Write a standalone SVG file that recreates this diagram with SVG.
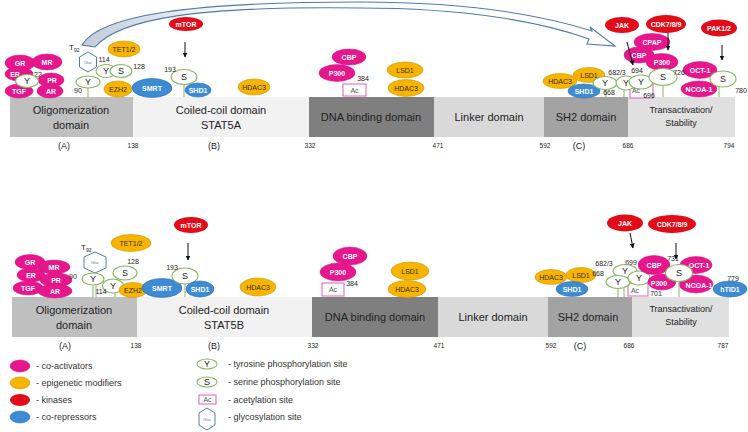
<svg xmlns="http://www.w3.org/2000/svg" width="748" height="432" viewBox="0 0 748 432">
<defs>
<style>
text{font-family:"Liberation Sans",Arial,sans-serif}
.pk{fill:#e8168c;stroke:#cf127c;stroke-width:.5}
.or{fill:#f7b500;stroke:#c99409;stroke-width:.6}
.rd{fill:#e30b17}
.bl{fill:#3d8bd4;stroke:#2d6fae;stroke-width:.6}
.site{fill:#fff;stroke:#86b65e;stroke-width:1.1}
.stem{stroke:#9cc27a;stroke-width:1.2}
.ac{fill:#fff;stroke:#e35fb5;stroke-width:1}
.hex{fill:#fff;stroke:#5a7aa6;stroke-width:1}
.tw{fill:#fff;font-size:7px;font-weight:bold;text-anchor:middle;dominant-baseline:central}
.tk{fill:#3a2a00;font-size:7px;text-anchor:middle;dominant-baseline:central}
.sl{fill:#222;font-size:9px;text-anchor:middle;dominant-baseline:central}
.num{fill:#222;font-size:7px;text-anchor:middle}
.dom{fill:#222;font-size:11px;text-anchor:middle}
.dsm{fill:#222;font-size:9px;text-anchor:middle}
.pos{fill:#222;font-size:6.5px;text-anchor:middle}
.lbl{fill:#222;font-size:9px;text-anchor:middle}
.leg{fill:#333;font-size:9px;dominant-baseline:central}
.gl{fill:#5a7aa6;font-size:4px;text-anchor:middle;dominant-baseline:central}
.acx{fill:#555;font-size:7px;text-anchor:middle;dominant-baseline:central}
.arr{stroke:#111;stroke-width:1;fill:none;marker-end:url(#ah)}
</style>
<marker id="ah" viewBox="0 0 10 10" refX="9" refY="5" markerWidth="5" markerHeight="5" orient="auto"><path d="M0,0 L10,5 L0,10 Z" fill="#111"/></marker>
<linearGradient id="bg" x1="0" y1="0" x2="1" y2="0"><stop offset="0" stop-color="#c3ccd8"/><stop offset="0.3" stop-color="#ffffff"/><stop offset="1" stop-color="#ffffff"/></linearGradient>
</defs>

<!-- ============ STAT5A domains ============ -->
<g id="stat5a-domains">
<rect x="10" y="97" width="123" height="40" fill="#bfbfbf"/>
<rect x="133" y="97" width="176" height="40" fill="#f2f2f2"/>
<rect x="309" y="97" width="125" height="40" fill="#7f7f7f"/>
<rect x="434" y="97" width="110" height="40" fill="#d9d9d9"/>
<rect x="544" y="97" width="84" height="40" fill="#a3a3a3"/>
<rect x="628" y="97" width="107" height="40" fill="#e0e0e0"/>
<text class="dom" x="71" y="114">Oligomerization</text>
<text class="dom" x="71" y="129">domain</text>
<text class="dom" x="221" y="114">Coiled-coil domain</text>
<text class="dom" x="221" y="129">STAT5A</text>
<text class="dom" x="371" y="121">DNA binding domain</text>
<text class="dom" x="489" y="121">Linker domain</text>
<text class="dom" x="586" y="121">SH2 domain</text>
<text class="dsm" x="681" y="113">Transactivation/</text>
<text class="dsm" x="681" y="126">Stability</text>
<text class="lbl" x="64" y="149">(A)</text>
<text class="pos" x="133" y="148">138</text>
<text class="lbl" x="214" y="149">(B)</text>
<text class="pos" x="310" y="148">332</text>
<text class="pos" x="438" y="148">471</text>
<text class="pos" x="545" y="148">592</text>
<text class="lbl" x="579" y="149">(C)</text>
<text class="pos" x="628" y="148">686</text>
<text class="pos" x="729" y="148">794</text>
</g>

<!-- ============ STAT5B domains ============ -->
<g id="stat5b-domains">
<rect x="12" y="297" width="125" height="40" fill="#bfbfbf"/>
<rect x="137" y="297" width="175" height="40" fill="#f2f2f2"/>
<rect x="312" y="297" width="126" height="40" fill="#7f7f7f"/>
<rect x="438" y="297" width="110" height="40" fill="#d9d9d9"/>
<rect x="548" y="297" width="84" height="40" fill="#a3a3a3"/>
<rect x="632" y="297" width="97" height="40" fill="#e0e0e0"/>
<text class="dom" x="74" y="314">Oligomerization</text>
<text class="dom" x="74" y="329">domain</text>
<text class="dom" x="224" y="314">Coiled-coil domain</text>
<text class="dom" x="224" y="329">STAT5B</text>
<text class="dom" x="375" y="321">DNA binding domain</text>
<text class="dom" x="493" y="321">Linker domain</text>
<text class="dom" x="588" y="321">SH2 domain</text>
<text class="dsm" x="681" y="312">Transactivation/</text>
<text class="dsm" x="681" y="325">Stability</text>
<text class="lbl" x="65" y="349">(A)</text>
<text class="pos" x="136" y="348">138</text>
<text class="lbl" x="214" y="349">(B)</text>
<text class="pos" x="313" y="348">332</text>
<text class="pos" x="439" y="348">471</text>
<text class="pos" x="551" y="348">592</text>
<text class="lbl" x="580" y="349">(C)</text>
<text class="pos" x="629" y="348">686</text>
<text class="pos" x="723" y="348">787</text>
</g>

<!-- ============ STAT5A nodes ============ -->
<g id="a-GR"><ellipse class="pk" cx="20" cy="63" rx="15" ry="8"/><text class="tw" x="20" y="63">GR</text></g>
<g id="a-MR"><ellipse class="pk" cx="47" cy="62" rx="15" ry="8"/><text class="tw" x="47" y="62">MR</text></g>
<g id="a-ER"><ellipse class="pk" cx="19" cy="74" rx="14" ry="7"/><text class="tw" x="15" y="74">ER</text></g>
<g id="a-22"><text class="num" x="38" y="77">22</text></g>
<g id="a-PR"><ellipse class="pk" cx="51" cy="80" rx="13" ry="7"/><text class="tw" x="52" y="80">PR</text></g>
<g id="a-TGF"><ellipse class="pk" cx="19" cy="91" rx="14" ry="7"/><text class="tw" x="19" y="91">TGF</text></g>
<g id="a-AR"><ellipse class="pk" cx="50" cy="91" rx="13" ry="7"/><text class="tw" x="51" y="91">AR</text></g>
<g id="a-Y22"><ellipse class="site" cx="27" cy="81" rx="11.5" ry="6.5"/><text class="sl" x="27" y="81">Y</text></g>

<g id="a-T92"><text fill="#222" font-size="8" x="69" y="50">T<tspan font-size="5" dy="2">92</tspan></text></g>
<g id="a-gluc"><polygon class="hex" points="88,52 96.5,57 96.5,67 88,72 79.5,67 79.5,57"/><text class="gl" x="88" y="62">Gluc</text></g>
<g id="a-Y90"><line class="stem" x1="88" y1="88" x2="88" y2="97"/><ellipse class="site" cx="88" cy="82" rx="12" ry="6"/><text class="sl" x="88" y="82">Y</text><text class="num" x="78" y="93">90</text></g>
<g id="a-Y114"><ellipse class="site" cx="106" cy="71" rx="10" ry="6.5"/><text class="sl" x="106" y="71">Y</text><text class="num" x="104" y="62">114</text></g>
<g id="a-S128"><ellipse class="site" cx="121" cy="71" rx="11" ry="6.5"/><text class="sl" x="121" y="71">S</text><text class="num" x="139" y="69">128</text></g>
<g id="a-TET"><ellipse class="or" cx="124" cy="49" rx="16" ry="8"/><text class="tk" x="124" y="49">TET1/2</text></g>
<g id="a-EZH2"><ellipse class="or" cx="118" cy="89" rx="14" ry="8"/><text class="tk" x="118" y="89">EZH2</text></g>
<g id="a-SMRT"><ellipse class="bl" cx="152" cy="88" rx="20" ry="9.5"/><text class="tw" x="152" y="88">SMRT</text></g>
<g id="a-mTOR"><ellipse class="rd" cx="186" cy="24" rx="17" ry="7"/><text class="tw" x="186" y="24">mTOR</text></g>
<g id="a-S193"><line class="stem" x1="184" y1="85" x2="184" y2="97"/><ellipse class="site" cx="184" cy="77" rx="13" ry="7.5"/><text class="sl" x="184" y="77">S</text><text class="num" x="170" y="72">193</text></g>
<g id="a-SHD1"><ellipse class="bl" cx="198" cy="90" rx="13" ry="7"/><text class="tw" x="198" y="90">SHD1</text></g>
<g id="a-HDAC3-cc"><ellipse class="or" cx="254" cy="87" rx="16" ry="8"/><text class="tk" x="254" y="87">HDAC3</text></g>

<g id="a-CBP"><ellipse class="pk" cx="349" cy="57" rx="17" ry="8"/><text class="tw" x="349" y="57">CBP</text></g>
<g id="a-P300"><ellipse class="pk" cx="337" cy="73" rx="18" ry="8.5"/><text class="tw" x="337" y="73">P300</text></g>
<g id="a-Ac384"><rect class="ac" x="343" y="84" width="23" height="12"/><text class="acx" x="354.5" y="90">Ac</text><text class="num" x="363" y="81">384</text></g>
<g id="a-LSD1-dna"><ellipse class="or" cx="405" cy="70" rx="18" ry="8"/><text class="tk" x="405" y="70">LSD1</text></g>
<g id="a-HDAC3-dna"><ellipse class="or" cx="406" cy="88" rx="18" ry="8.5"/><text class="tk" x="406" y="88">HDAC3</text></g>

<g id="a-JAK"><ellipse class="rd" cx="622" cy="25" rx="17" ry="8"/><text class="tw" x="622" y="25">JAK</text></g>
<g id="a-CDK"><ellipse class="rd" cx="666" cy="24" rx="20" ry="9"/><text class="tw" x="666" y="24">CDK7/8/9</text></g>
<g id="a-PAK"><ellipse class="rd" cx="719" cy="28" rx="18" ry="8.5"/><text class="tw" x="719" y="28">PAK1/2</text></g>
<g id="a-CPAP"><ellipse class="pk" cx="652" cy="42" rx="18" ry="8.5"/><text class="tw" x="652" y="42">CPAP</text></g>
<g id="a-CBP2"><ellipse class="pk" cx="639" cy="55" rx="15" ry="8"/><text class="tw" x="639" y="55">CBP</text></g>
<g id="a-P300-2"><ellipse class="pk" cx="662" cy="62" rx="16" ry="8.5"/><text class="tw" x="662" y="62">P300</text></g>
<g id="a-HDAC3-sh2"><ellipse class="or" cx="560" cy="81" rx="17" ry="7.5"/><text class="tk" x="560" y="81">HDAC3</text></g>
<g id="a-LSD1-sh2"><ellipse class="or" cx="589" cy="75" rx="16" ry="7.5"/><text class="tk" x="589" y="75">LSD1</text></g>
<g id="a-SHD1-sh2"><ellipse class="bl" cx="584" cy="91" rx="16" ry="7"/><text class="tw" x="584" y="91">SHD1</text></g>
<g id="a-Ac696"><rect class="ac" x="630" y="84" width="23" height="14"/><text class="acx" x="636" y="90">Ac</text><text class="num" x="649" y="98">696</text></g>
<g id="a-Y682"><line class="stem" x1="606" y1="89" x2="606" y2="97"/><ellipse class="site" cx="605" cy="83" rx="12" ry="6.5"/><text class="sl" x="605" y="83">Y</text></g>
<g id="a-Y683"><line class="stem" x1="624" y1="89" x2="624" y2="97"/><ellipse class="site" cx="626" cy="83" rx="10" ry="7"/><text class="sl" x="626" y="83">Y</text></g>
<g id="a-Y694"><ellipse class="site" cx="641" cy="82" rx="12" ry="7"/><text class="sl" x="641" y="82">Y</text></g>
<g id="a-sitelabels"><text class="num" x="617" y="75">682/3</text><text class="num" x="637" y="73">694</text><text class="num" x="609" y="95">668</text></g>
<g id="a-OCT1"><ellipse class="pk" cx="700" cy="70" rx="17" ry="8.5"/><text class="tw" x="700" y="70">OCT-1</text></g>
<g id="a-S726"><line class="stem" x1="663" y1="85" x2="663" y2="97"/><ellipse class="site" cx="663" cy="77" rx="14" ry="8.5"/><text class="sl" x="663" y="77">S</text><text class="num" x="679" y="75">726</text></g>
<g id="a-NCOA1"><ellipse class="pk" cx="699" cy="89" rx="18" ry="8"/><text class="tw" x="699" y="89">NCOA-1</text></g>
<g id="a-S780"><line class="stem" x1="719" y1="87" x2="719" y2="97"/><ellipse class="site" cx="723" cy="79" rx="13" ry="8"/><text class="sl" x="723" y="79">S</text><text class="num" x="741" y="93">780</text></g>

<!-- ============ STAT5B nodes ============ -->
<g id="b-GR"><ellipse class="pk" cx="30" cy="262" rx="15" ry="7.5"/><text class="tw" x="30" y="262">GR</text></g>
<g id="b-MR"><ellipse class="pk" cx="54" cy="267" rx="16" ry="7"/><text class="tw" x="54" y="267">MR</text></g>
<g id="b-ER"><ellipse class="pk" cx="31" cy="275" rx="14" ry="7"/><text class="tw" x="31" y="275">ER</text></g>
<g id="b-PR"><ellipse class="pk" cx="56" cy="280" rx="16" ry="7"/><text class="tw" x="56" y="280">PR</text></g>
<g id="b-TGF"><ellipse class="pk" cx="28" cy="288" rx="15" ry="7"/><text class="tw" x="28" y="288">TGF</text></g>
<g id="b-AR"><ellipse class="pk" cx="55" cy="291" rx="17" ry="7"/><text class="tw" x="55" y="291">AR</text></g>
<g id="b-T92"><text fill="#222" font-size="8" x="81" y="250">T<tspan font-size="5" dy="2">92</tspan></text></g>
<g id="b-gluc"><polygon class="hex" points="95,252 106,257 106,268 95,273 84,268 84,257"/><text class="gl" x="95" y="262">Gluc</text></g>
<g id="b-Y90"><line class="stem" x1="93" y1="285" x2="93" y2="297"/><line class="stem" x1="96" y1="285" x2="96" y2="297"/><ellipse class="site" cx="93" cy="279" rx="11" ry="6"/><text class="sl" x="93" y="279">Y</text><text class="num" x="73" y="279">90</text></g>
<g id="b-Y114"><line class="stem" x1="115" y1="292" x2="115" y2="297"/><ellipse class="site" cx="113" cy="286" rx="10.5" ry="7"/><text class="sl" x="113" y="286">Y</text><text class="num" x="101" y="294">114</text></g>
<g id="b-S128"><ellipse class="site" cx="125" cy="273" rx="12" ry="7"/><text class="sl" x="125" y="273">S</text><text class="num" x="133" y="264">128</text></g>
<g id="b-EZH2"><ellipse class="or" cx="133" cy="290" rx="14" ry="7.5"/><text class="tk" x="133" y="290">EZH2</text></g>
<g id="b-TET"><ellipse class="or" cx="131" cy="243" rx="20" ry="8.5"/><text class="tk" x="131" y="243">TET1/2</text></g>
<g id="b-SMRT"><ellipse class="bl" cx="162" cy="288" rx="20" ry="9.5"/><text class="tw" x="162" y="288">SMRT</text></g>
<g id="b-mTOR"><ellipse class="rd" cx="191" cy="225" rx="17" ry="8"/><text class="tw" x="191" y="225">mTOR</text></g>
<g id="b-S193"><line class="stem" x1="185" y1="284" x2="185" y2="297"/><ellipse class="site" cx="185" cy="276" rx="13" ry="8"/><text class="sl" x="185" y="276">S</text><text class="num" x="172" y="270">193</text></g>
<g id="b-SHD1"><ellipse class="bl" cx="200" cy="289" rx="14" ry="8"/><text class="tw" x="200" y="289">SHD1</text></g>
<g id="b-HDAC3-cc"><ellipse class="or" cx="258" cy="287" rx="18" ry="9"/><text class="tk" x="258" y="287">HDAC3</text></g>

<g id="b-CBP"><ellipse class="pk" cx="350" cy="256" rx="17" ry="9"/><text class="tw" x="350" y="256">CBP</text></g>
<g id="b-P300"><ellipse class="pk" cx="338" cy="272" rx="18" ry="9"/><text class="tw" x="338" y="272">P300</text></g>
<g id="b-Ac384"><rect class="ac" x="322" y="283" width="22" height="13"/><text class="acx" x="333" y="289.5">Ac</text><text class="num" x="352" y="286">384</text></g>
<g id="b-LSD1-dna"><ellipse class="or" cx="410" cy="271" rx="19" ry="9"/><text class="tk" x="410" y="271">LSD1</text></g>
<g id="b-HDAC3-dna"><ellipse class="or" cx="407" cy="289" rx="19" ry="8.5"/><text class="tk" x="407" y="289">HDAC3</text></g>

<g id="b-JAK"><ellipse class="rd" cx="625" cy="223" rx="18" ry="8.5"/><text class="tw" x="625" y="223">JAK</text></g>
<g id="b-CDK"><ellipse class="rd" cx="672" cy="224" rx="24" ry="9"/><text class="tw" x="672" y="224">CDK7/8/9</text></g>
<g id="b-HDAC3-sh2"><ellipse class="or" cx="551" cy="277" rx="16" ry="7.5"/><text class="tk" x="551" y="277">HDAC3</text></g>
<g id="b-LSD1-sh2"><ellipse class="or" cx="581" cy="275" rx="15" ry="7.5"/><text class="tk" x="581" y="275">LSD1</text></g>
<g id="b-SHD1-sh2"><ellipse class="bl" cx="572" cy="289" rx="16" ry="7.5"/><text class="tw" x="572" y="289">SHD1</text></g>
<g id="b-sitelabels"><text class="num" x="604" y="266">682/3</text><text class="num" x="598" y="276">668</text><text class="num" x="631" y="265">699</text></g>
<g id="b-Ac701"><rect class="ac" x="628" y="283" width="20" height="13"/><text class="acx" x="635" y="290">Ac</text><text class="num" x="656" y="296">701</text></g>
<g id="b-Y699"><ellipse class="site" cx="625" cy="271" rx="12" ry="6.5"/><text class="sl" x="625" y="271">Y</text></g>
<g id="b-Y682"><line class="stem" x1="618" y1="288" x2="618" y2="297"/><line class="stem" x1="624" y1="288" x2="624" y2="297"/><ellipse class="site" cx="618" cy="282" rx="12" ry="6.5"/><text class="sl" x="618" y="282">Y</text></g>
<g id="b-Y683"><ellipse class="site" cx="639" cy="278" rx="11" ry="7"/><text class="sl" x="639" y="278">Y</text></g>
<g id="b-CBP2"><ellipse class="pk" cx="654" cy="265" rx="16" ry="9.5"/><text class="tw" x="654" y="265">CBP</text></g>
<g id="b-P300-2"><ellipse class="pk" cx="662" cy="282" rx="14" ry="8"/><text class="tw" x="659" y="283">P300</text></g>
<g id="b-OCT1"><ellipse class="pk" cx="696" cy="265" rx="16" ry="8.5"/><text class="tw" x="699" y="265">OCT-1</text></g>
<g id="b-NCOA1"><ellipse class="pk" cx="696" cy="284" rx="17" ry="9"/><text class="tw" x="699" y="285">NCOA-1</text></g>
<g id="b-S731"><line class="stem" x1="679" y1="281" x2="679" y2="297"/><ellipse class="site" cx="679" cy="273" rx="13.5" ry="8.5"/><text class="sl" x="679" y="273">S</text><text class="num" x="673" y="261">731</text></g>
<g id="b-hTID1"><ellipse class="bl" cx="730" cy="289" rx="17" ry="8"/><text class="tw" x="730" y="289">hTID1</text><text class="num" x="733" y="281">779</text></g>

<!-- ============ Connectors ============ -->
<g id="connectors">
<path d="M82,45 C100,15 190,2 360,2 C470,2 545,16 592,31 L590,27 L615,46 L587,44 L589,39 C545,23 470,8 360,8 C200,6 120,18 95,47 Z" fill="url(#bg)" stroke="#4f7bab" stroke-width="1.1"/>
<line class="arr" x1="185" y1="42" x2="185" y2="57"/>
<line class="arr" x1="627" y1="42" x2="633" y2="65"/>
<line class="arr" x1="668" y1="33" x2="668" y2="50"/>
<line class="arr" x1="722" y1="45" x2="722" y2="60"/>
<line class="arr" x1="188" y1="243" x2="188" y2="260"/>
<line class="arr" x1="630" y1="233" x2="633" y2="248"/>
<line class="arr" x1="676" y1="243" x2="676" y2="259"/>
</g>

<!-- ============ Legend ============ -->
<g id="legend">
<ellipse class="pk" cx="20" cy="366" rx="10" ry="6"/><text class="leg" x="36" y="366">- co-activators</text>
<ellipse class="or" cx="20" cy="383" rx="10" ry="6"/><text class="leg" x="36" y="383">- epigenetic modifiers</text>
<ellipse class="rd" cx="20" cy="400" rx="10" ry="6"/><text class="leg" x="36" y="400">- kinases</text>
<ellipse class="bl" cx="20" cy="417" rx="10" ry="6"/><text class="leg" x="36" y="417">- co-repressors</text>
<ellipse class="site" cx="207" cy="364" rx="10" ry="5"/><text class="sl" x="207" y="364" font-size="7">Y</text><text class="leg" x="228" y="364">- tyrosine phosphorylation site</text>
<ellipse class="site" cx="207" cy="382" rx="10" ry="5"/><text class="sl" x="207" y="382" font-size="7">S</text><text class="leg" x="228" y="382">- serine phosphorylation site</text>
<rect class="ac" x="199" y="395" width="17" height="9"/><text class="acx" x="207.5" y="399.5" font-size="5">Ac</text><text class="leg" x="228" y="400">- acetylation site</text>
<polygon class="hex" points="207,408 215,413 215,425 207,430 199,425 199,413"/><text class="gl" x="207" y="419">Gluc</text><text class="leg" x="228" y="417">- glycosylation site</text>
</g>
</svg>
